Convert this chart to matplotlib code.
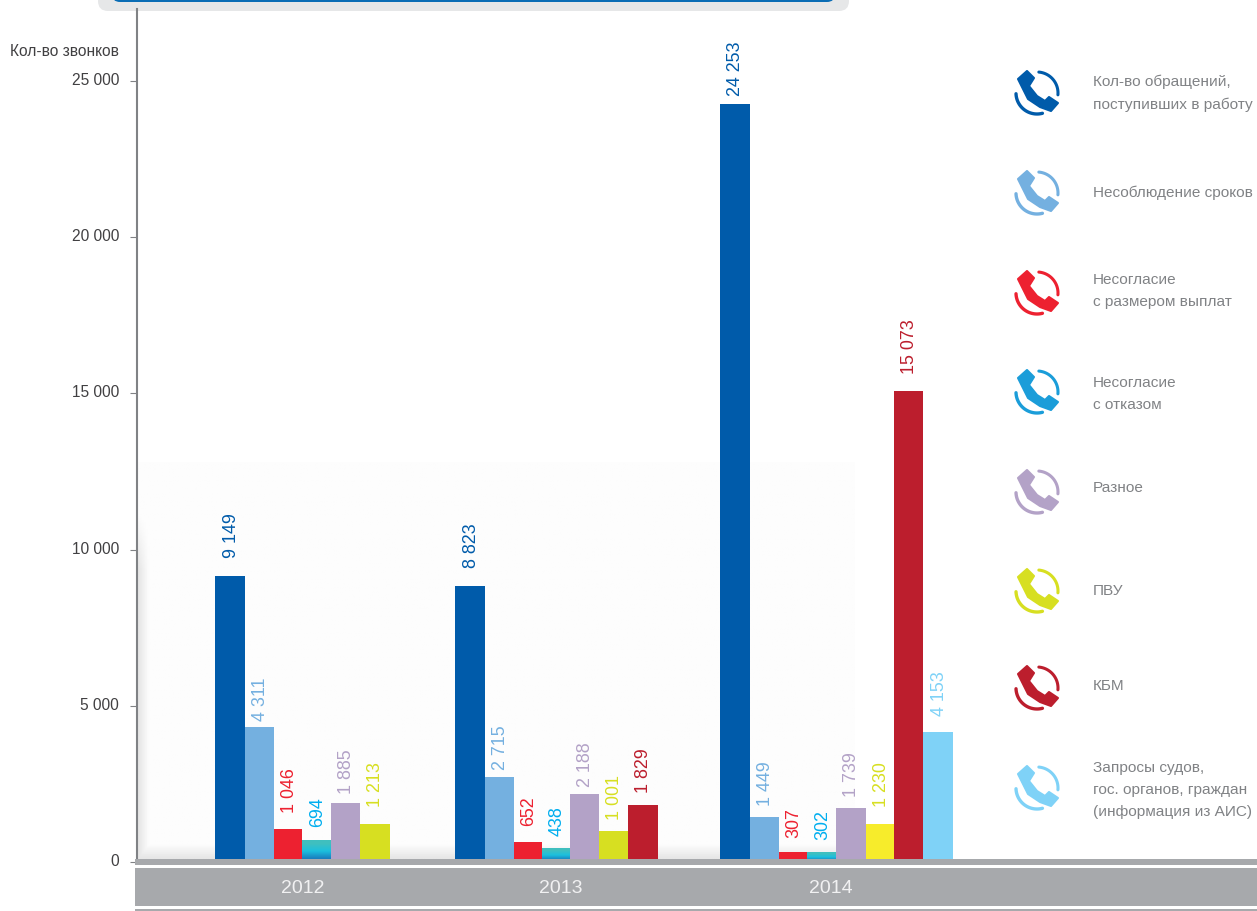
import numpy as np
import matplotlib.pyplot as plt
from matplotlib.patches import Rectangle, FancyBboxPatch, Polygon
from matplotlib.transforms import ScaledTranslation

years = ['2012', '2013', '2014']
year_pos = [303, 561, 831]
yticks = [0, 5000, 10000, 15000, 20000, 25000]
ytick_labels = ['0', '5 000', '10 000', '15 000', '20 000', '25 000']
ylabel = 'Кол-во звонков'

vals_2012 = [9149, 4311, 1046, 694, 1885, 1213]
vals_2013 = [8823, 2715, 652, 438, 2188, 1001, 1829]
vals_2014 = [24253, 1449, 307, 302, 1739, 1230, 15073, 4153]

text_2012 = ['9 149', '4 311', '1 046', '694', '1 885', '1 213']
text_2013 = ['8 823', '2 715', '652', '438', '2 188', '1 001', '1 829']
text_2014 = ['24 253', '1 449', '307', '302', '1 739', '1 230', '15 073', '4 153']

# bar edges in px, the groups are not evenly spaced
edges_2012 = [215, 245, 274, 302, 331, 360, 390]
edges_2013 = [455, 485, 514, 542, 570, 599, 628, 658]
edges_2014 = [720, 750, 779, 807, 836, 866, 894, 923, 953]

# gap between bar top and its label, px
gaps_2012 = [19, 7, 17, 14, 10, 18]
gaps_2013 = [19, 8, 17, 13, 8, 12, 13]
gaps_2014 = [9, 12, 15, 14, 12, 18, 18, 17]

colors = ['#005baa', '#74b0e0', '#ed2130', '#00aeef', '#b3a2c7', '#d7df21', '#bc1e2d', '#7fd2f7']
icon_colors = ['#005baa', '#74b0e0', '#ed2130', '#1b9dd9', '#b3a2c7', '#d7df21', '#bc1e2d', '#7fd2f7']
legend_labels = ['Кол-во обращений,\nпоступивших в работу', 'Несоблюдение сроков',
                 'Несогласие\nс размером выплат', 'Несогласие\nс отказом', 'Разное', 'ПВУ', 'КБМ',
                 'Запросы судов,\nгос. органов, граждан\n(информация из АИС)']
icon_y = [93, 193, 293, 392, 492, 591, 688, 788]
legend_y = [93, 193, 291, 394, 488, 591, 686, 790]

font = 'Liberation Sans'
W, H = 1257, 912
fig = plt.figure(figsize=(W / 100, H / 100), dpi=100)

# background layer in px
bg = fig.add_axes([0, 0, 1, 1], zorder=0)
bg.axis('off')

xx, yy = np.meshgrid(np.linspace(138, 855, 400), np.linspace(463, 860, 300))
shade = np.full(xx.shape, 0.99)
left = 0.90 + 0.09 * np.clip((xx - 138) / 10, 0, 1)
left = 1 - (1 - left) * np.clip((yy - 510) / 60, 0, 1)
shade = np.minimum(shade, left)
shade = np.minimum(shade, 0.90 + 0.09 * np.clip((860 - yy) / 14, 0, 1))
bg.imshow(shade, extent=(138, 855, 860, 463), cmap='gray', vmin=0, vmax=1,
          aspect='auto', zorder=1)
bg.set_xlim(0, W)
bg.set_ylim(H, 0)

bg.add_patch(FancyBboxPatch((98, -30), 751, 42, boxstyle='round,pad=0,rounding_size=10',
                            fc='#e6e7e8', ec='none'))
bg.add_patch(FancyBboxPatch((112, -30), 723, 33, boxstyle='round,pad=0,rounding_size=8',
                            fc='#0a6db5', ec='none'))
bg.add_patch(Rectangle((135, 869), W - 135, 38, fc='#a7a9ac', ec='none'))
bg.add_patch(Rectangle((135, 910), W - 135, 2, fc='#a7a9ac', ec='none'))

# phone icons
handset = np.array([(-10, -21), (-19, -13), (-15, -5), (-9, 7), (3, 15), (14, 19), (21, 11),
                    (12, 5), (8, 9), (0, 4), (-8, -6), (-3, -14)])
for c, cy in zip(icon_colors, icon_y):
    bg.add_patch(Polygon(handset + [1037, cy], closed=True, fc=c, ec=c, lw=1.5, joinstyle='round'))
    t = np.radians(np.linspace(-85, 5, 30))
    bg.plot(1037 + 21 * np.cos(t), cy + 1 + 21 * np.sin(t), color=c, lw=2.2, solid_capstyle='round')
    t = np.radians(np.linspace(75, 178, 30))
    bg.plot(1037 + 21 * np.cos(t), cy + 1 + 21 * np.sin(t), color=c, lw=2.4, solid_capstyle='round')

for lab, ly in zip(legend_labels, legend_y):
    bg.text(1093, ly, lab, family=font, fontsize=11.1, color='#808285', va='center', ha='left',
            linespacing=1.75)

# chart, x is in px so the bars stay where they are in the picture
ax = fig.add_axes([137 / W, (H - 863) / H, (W - 137) / W, 853 / H], zorder=1)
ax.patch.set_alpha(0)
for s in ['top', 'right', 'bottom']:
    ax.spines[s].set_visible(False)
ax.spines['left'].set_color('#808285')
ax.spines['left'].set_linewidth(1.5)

ax.set_yticks(yticks, ytick_labels, family=font, fontsize=11.2, color='#414042')
ax.tick_params(axis='y', length=5, width=0.8, color='#808285', pad=8)
for lab in ax.get_yticklabels():
    lab.set_transform(lab.get_transform() + ScaledTranslation(0, 3 / 100, fig.dpi_scale_trans))
ax.set_xticks(year_pos, years, family=font, fontsize=14, color='#f1f1f2')
ax.tick_params(axis='x', length=0, pad=12)
bg.text(119, 51, ylabel, family=font, fontsize=11.2, color='#414042', ha='right', va='center')

groups = [(vals_2012, text_2012, edges_2012, gaps_2012),
          (vals_2013, text_2013, edges_2013, gaps_2013),
          (vals_2014, text_2014, edges_2014, gaps_2014)]
for g, (vals, texts, edges, gaps) in enumerate(groups):
    for i, v in enumerate(vals):
        left, right = edges[i], edges[i + 1]
        c = colors[i]
        if i == 5 and g == 2:
            c = '#f7ec2b'
        if i == 3:
            # the cyan bars have a vertical gradient
            grad = np.array([[0.25, 0.75, 0.75], [0.11, 0.75, 0.87], [0.10, 0.50, 0.75]]).reshape(3, 1, 3)
            ax.imshow(grad, extent=(left, right, 0, v), aspect='auto', interpolation='bilinear', zorder=2)
        else:
            ax.bar(left, v, width=right - left, align='edge', color=c, zorder=2)
        ax.annotate(texts[i], (left + (right - left) / 2 + 1, v), xytext=(0, gaps[i] * 0.72),
                    textcoords='offset points', rotation=90, ha='center', va='bottom',
                    family=font, fontsize=12.9, color=colors[i])
ax.set_xlim(137, W)
ax.set_ylim(0, 853 / 0.03124)

# axis band sits over the bottom of the bars
ax.add_patch(Rectangle((135, 860), W - 135, 6, fc='#a7a9ac', ec='none', transform=bg.transData,
                       clip_on=False, zorder=5))

fig.savefig('out.png', dpi=100)
